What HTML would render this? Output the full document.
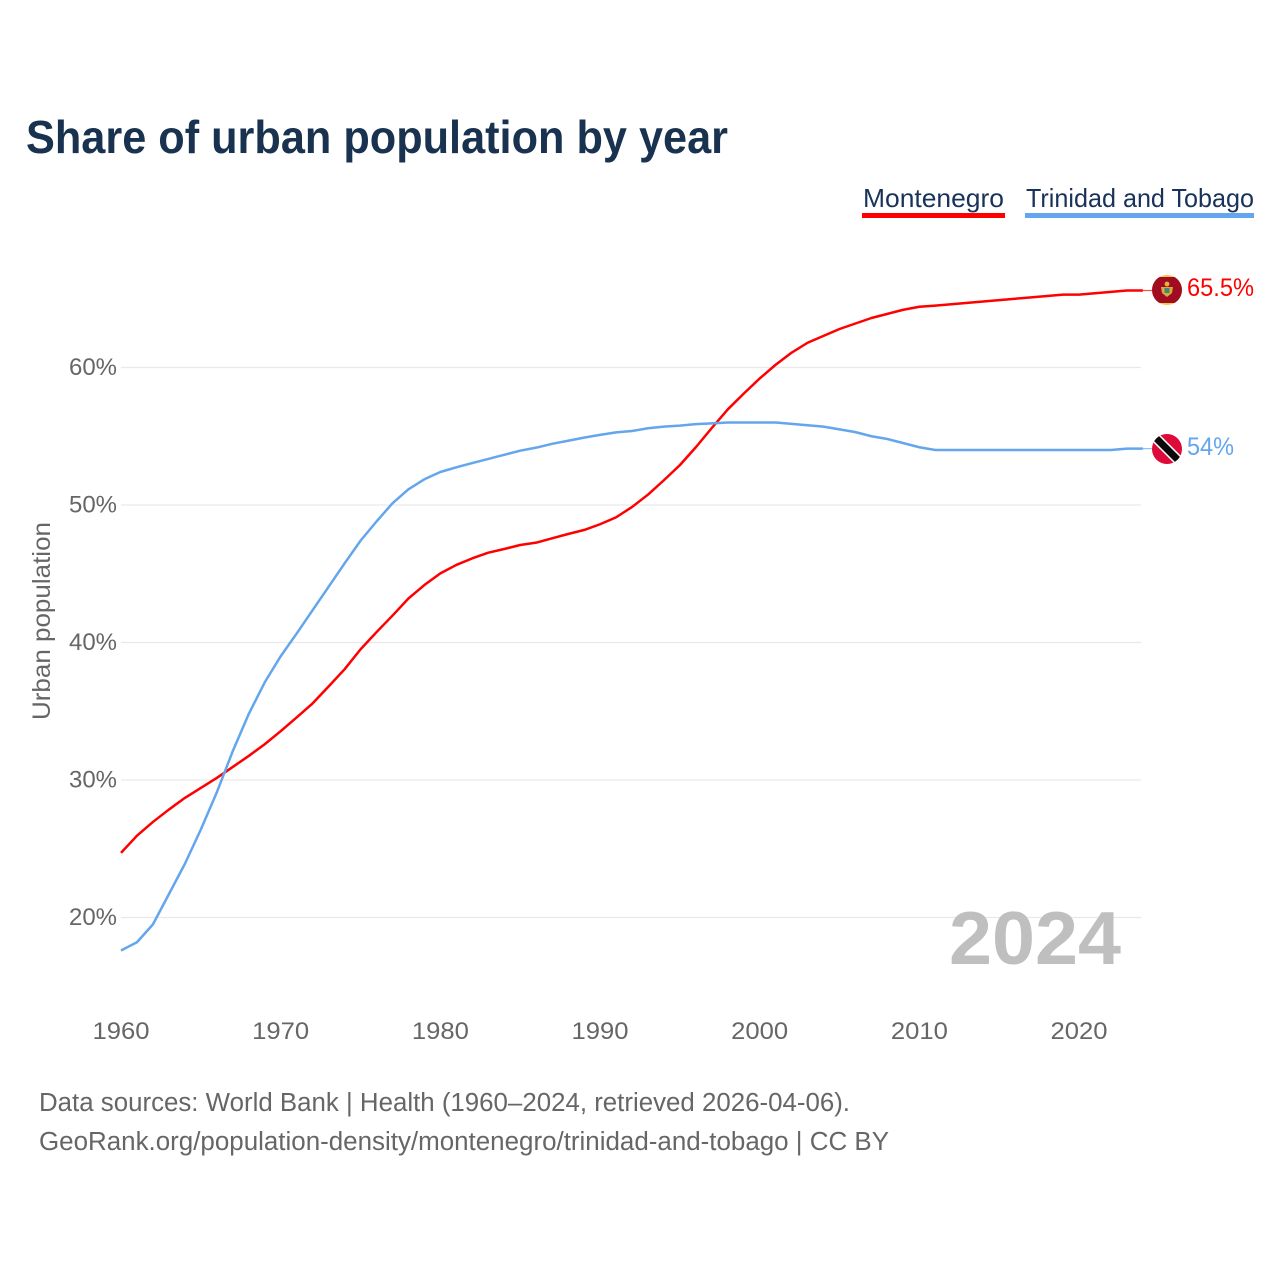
<!DOCTYPE html>
<html lang="en">
<head>
<meta charset="utf-8">
<title>Share of urban population by year</title>
<style>
  html, body { margin: 0; padding: 0; background: #fff; }
  svg { display: block; font-family: "Liberation Sans", sans-serif; }
</style>
</head>
<body>
<svg id="chart" xmlns="http://www.w3.org/2000/svg" width="1280" height="1280" viewBox="0 0 1280 1280">
  <rect x="0" y="0" width="1280" height="1280" fill="#ffffff"/>
  <text x="26" y="153" font-size="46" font-weight="700" fill="#18324f" textLength="702" lengthAdjust="spacingAndGlyphs">Share of urban population by year</text>

  <g>
    <g>
      <text x="863" y="207" font-size="26" fill="#18325a" textLength="141" lengthAdjust="spacingAndGlyphs">Montenegro</text>
      <rect x="862" y="213" width="143" height="5" fill="#ff0000"/>
    </g>
    <g>
      <text x="1026" y="207" font-size="26" fill="#18325a" textLength="228" lengthAdjust="spacingAndGlyphs">Trinidad and Tobago</text>
      <rect x="1025" y="213" width="229" height="5" fill="#63a6ee"/>
    </g>
  </g>

  <text transform="translate(50 720) rotate(-90)" x="0" y="0" font-size="25" fill="#666666" textLength="198" lengthAdjust="spacingAndGlyphs">Urban population</text>

  <g id="grid"></g>
  <g id="y-ticks"></g>
  <g id="x-ticks"></g>

  <text x="949" y="964" font-size="75" font-weight="700" fill="#bfbfbf" textLength="172" lengthAdjust="spacingAndGlyphs">2024</text>

  <g id="series"></g>

  <defs>
    <clipPath id="flag-clip-me"><circle cx="1167" cy="290" r="15"/></clipPath>
    <clipPath id="flag-clip-tt"><circle cx="1167" cy="449" r="15"/></clipPath>
  </defs>

  <g clip-path="url(#flag-clip-me)">
    <rect x="1150" y="274" width="34" height="32" fill="#f4c94a"/>
    <rect x="1150" y="277" width="34" height="26" fill="#a00d22"/>
    <path d="M1161 287 h12 l-1 6 l-5 4 l-5 -4 z" fill="#d9a93a"/>
    <rect x="1164.5" y="288" width="5" height="5" fill="#3e8a7a"/>
    <circle cx="1167" cy="284" r="2.4" fill="#e2b33f"/>
  </g>

  <g clip-path="url(#flag-clip-tt)">
    <rect x="1150" y="432" width="34" height="34" fill="#dc0b3a"/>
    <line x1="1150" y1="432" x2="1184" y2="466" stroke="#ffffff" stroke-width="10"/>
    <line x1="1150" y1="432" x2="1184" y2="466" stroke="#0a0a0a" stroke-width="7"/>
  </g>

  <text x="1187" y="296" font-size="25" fill="#ff0000" textLength="67" lengthAdjust="spacingAndGlyphs">65.5%</text>
  <text x="1187" y="455" font-size="25" fill="#63a6ee" textLength="47" lengthAdjust="spacingAndGlyphs">54%</text>

  <g>
    <text x="39" y="1111" font-size="25.5" fill="#666666" textLength="811" lengthAdjust="spacingAndGlyphs">Data sources: World Bank | Health (1960–2024, retrieved 2026-04-06).</text>
    <text x="39" y="1150" font-size="25.5" fill="#666666" textLength="850" lengthAdjust="spacingAndGlyphs">GeoRank.org/population-density/montenegro/trinidad-and-tobago | CC BY</text>
  </g>
</svg>

<script>
const years = [1960,1961,1962,1963,1964,1965,1966,1967,1968,1969,1970,1971,1972,1973,1974,1975,1976,1977,1978,1979,1980,1981,1982,1983,1984,1985,1986,1987,1988,1989,1990,1991,1992,1993,1994,1995,1996,1997,1998,1999,2000,2001,2002,2003,2004,2005,2006,2007,2008,2009,2010,2011,2012,2013,2014,2015,2016,2017,2018,2019,2020,2021,2022,2023,2024];
const montenegro = [24.7,25.95,26.95,27.85,28.7,29.42,30.15,30.95,31.75,32.6,33.55,34.55,35.57,36.8,38.05,39.5,40.75,41.95,43.2,44.18,45.03,45.64,46.12,46.53,46.8,47.09,47.26,47.58,47.89,48.18,48.6,49.1,49.85,50.75,51.8,52.9,54.2,55.6,56.95,58.1,59.2,60.2,61.08,61.8,62.3,62.8,63.2,63.6,63.9,64.2,64.42,64.5,64.6,64.7,64.8,64.9,65.0,65.1,65.2,65.3,65.3,65.4,65.5,65.6,65.6];
const trinidad = [17.6,18.2,19.5,21.7,23.9,26.4,29.1,32.1,34.8,37.1,39.0,40.65,42.35,44.05,45.75,47.4,48.8,50.12,51.14,51.87,52.4,52.74,53.05,53.35,53.65,53.95,54.17,54.45,54.67,54.9,55.1,55.28,55.38,55.58,55.7,55.77,55.88,55.94,56.0,56.0,56.0,56.0,55.9,55.8,55.7,55.5,55.3,55.0,54.8,54.5,54.2,54.0,54.0,54.0,54.0,54.0,54.0,54.0,54.0,54.0,54.0,54.0,54.0,54.1,54.1];
const yTickValues = [20,30,40,50,60];
const yTickLabels = ["20%","30%","40%","50%","60%"];
const xTickValues = [1960,1970,1980,1990,2000,2010,2020];
const xTickLabels = ["1960","1970","1980","1990","2000","2010","2020"];

const NS = "http://www.w3.org/2000/svg";
const X0 = 121, X_PER_YEAR = 15.967;
const Y20 = 917.5, Y_PER_PCT = 13.75;
const X_LABEL_STRETCH = 1.067;
const Y_LABEL_STRETCH = 1.0;

function xScale(year) { return X0 + (year - 1960) * X_PER_YEAR; }
function yScale(pct) { return Y20 - (pct - 20) * Y_PER_PCT; }

function make(tag, attrs, parent) {
  const el = document.createElementNS(NS, tag);
  for (const k in attrs) el.setAttribute(k, attrs[k]);
  parent.appendChild(el);
  return el;
}
function stretch(el, factor) {
  el.setAttribute("textLength", (el.getComputedTextLength() * factor).toFixed(1));
  el.setAttribute("lengthAdjust", "spacingAndGlyphs");
}

const gridGroup = document.getElementById("grid");
const yTickGroup = document.getElementById("y-ticks");
const xTickGroup = document.getElementById("x-ticks");
const seriesGroup = document.getElementById("series");

yTickValues.forEach(function (v, i) {
  const line = make("line", { x1: 121, x2: 1141, y1: yScale(v), y2: yScale(v), stroke: "#e9e9e9", "stroke-width": 1.3 }, gridGroup);
  
  
  const label = make("text", { x: 117, y: yScale(v) + 7.5, "text-anchor": "end", "font-size": 24, fill: "#666666" }, yTickGroup);
  label.textContent = yTickLabels[i];
  
  
  stretch(label, Y_LABEL_STRETCH);
});

xTickValues.forEach(function (v, i) {
  const label = make("text", { x: xScale(v), y: 1039, "text-anchor": "middle", "font-size": 24, fill: "#666666" }, xTickGroup);
  label.textContent = xTickLabels[i];
  
  
  stretch(label, X_LABEL_STRETCH);
});

function pathFor(values) {
  return values.map(function (v, i) {
    return (i ? "L" : "M") + xScale(years[i]).toFixed(2) + " " + yScale(v).toFixed(2);
  }).join(" ");
}
function lastPoint(values) {
  return { x: xScale(years[years.length - 1]), y: yScale(values[values.length - 1]) };
}

const montenegroLine = make("path", { d: pathFor(montenegro), fill: "none", stroke: "#ff0000", "stroke-width": 2.5, "stroke-linejoin": "round" }, seriesGroup);



const trinidadLine = make("path", { d: pathFor(trinidad), fill: "none", stroke: "#63a6ee", "stroke-width": 2.5, "stroke-linejoin": "round" }, seriesGroup);



const meEnd = lastPoint(montenegro);
const montenegroLeader = make("line", { x1: meEnd.x, x2: 1153, y1: meEnd.y, y2: meEnd.y, stroke: "#ff0000", "stroke-width": 1.2, opacity: 0.7 }, seriesGroup);



const ttEnd = lastPoint(trinidad);
const trinidadLeader = make("line", { x1: ttEnd.x, x2: 1153, y1: ttEnd.y, y2: ttEnd.y, stroke: "#63a6ee", "stroke-width": 1.2, opacity: 0.7 }, seriesGroup);


</script>
</body>
</html>
